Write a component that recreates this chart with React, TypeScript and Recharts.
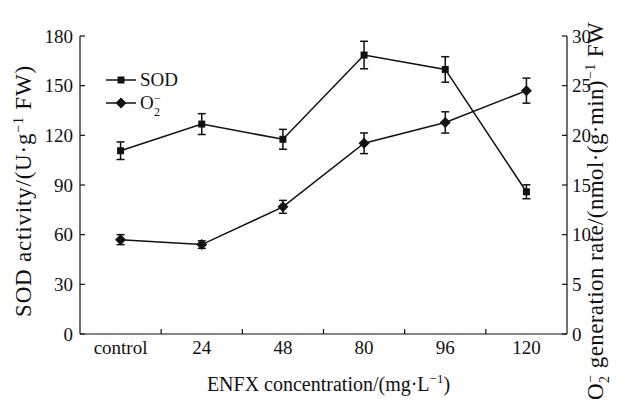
import { LineChart, Line, XAxis, YAxis, ErrorBar, Legend, Label } from 'recharts';

document.body.style.margin = '0';

const FONT = '"Liberation Serif", "Times New Roman", serif';
const INK = '#111';

const categories = ['control', '24', '48', '80', '96', '120'];
const sodValues = [110.7, 126.8, 117.6, 168.5, 159.8, 85.9];
const sodErrors = [5.3, 6.3, 6.0, 8.3, 7.7, 4.2];
const o2Values = [9.5, 9.0, 12.8, 19.2, 21.3, 24.5];
const o2Errors = [0.5, 0.38, 0.65, 1.04, 1.07, 1.26];
const leftTicks = [0, 30, 60, 90, 120, 150, 180];
const rightTicks = [0, 5, 10, 15, 20, 25, 30];

// categories sit at half positions, tick marks fall between them
const chartData = categories.map((name, i) => ({
  pos: i + 0.5,
  name,
  sod: sodValues[i],
  sodErr: sodErrors[i],
  o2: o2Values[i],
  o2Err: o2Errors[i],
}));
const xTicks = categories.flatMap((_, i) => (i === 0 ? [0.5] : [i, i + 0.5]));

function XTick({ x, y, payload }: any) {
  const v = payload.value;
  if (Number.isInteger(v)) {
    return <line x1={x} x2={x} y1={y} y2={y - 5} stroke={INK} strokeWidth={1.2} />;
  }
  return (
    <text x={x} y={y + 20} textAnchor="middle" fontSize={19} fontFamily={FONT} fill={INK}>
      {categories[Math.floor(v)]}
    </text>
  );
}

function LeftTick({ x, y, payload }: any) {
  return (
    <g>
      <line x1={x} x2={x + 5} y1={y} y2={y} stroke={INK} strokeWidth={1.2} />
      <text x={x - 7} y={y} dy="0.35em" textAnchor="end" fontSize={19} fontFamily={FONT} fill={INK}>
        {payload.value}
      </text>
    </g>
  );
}

function RightTick({ x, y, payload }: any) {
  return (
    <g>
      <line x1={x} x2={x - 5} y1={y} y2={y} stroke={INK} strokeWidth={1.2} />
      <text x={x + 5} y={y} dy="0.35em" textAnchor="start" fontSize={19} fontFamily={FONT} fill={INK}>
        {payload.value}
      </text>
    </g>
  );
}

function SquareDot({ cx, cy }: any) {
  return <rect x={cx - 3.5} y={cy - 3.5} width={7} height={7} fill={INK} />;
}

function DiamondDot({ cx, cy }: any) {
  const r = 5.5;
  return <polygon points={`${cx},${cy - r} ${cx + r},${cy} ${cx},${cy + r} ${cx - r},${cy}`} fill={INK} />;
}

function LeftTitle({ viewBox }: any) {
  const x = viewBox.x - 9;
  const y = viewBox.y + viewBox.height / 2 + 6;
  return (
    <text x={x} y={y} transform={`rotate(-90 ${x} ${y})`} textAnchor="middle" fontSize={23} fontFamily={FONT} fill={INK}
      letterSpacing={0.8}>
      SOD activity/(U·g<tspan dy={-8} fontSize={14}>−1</tspan><tspan dy={8}> FW)</tspan>
    </text>
  );
}

function RightTitle({ viewBox }: any) {
  const x = viewBox.x + 36;
  const y = viewBox.y + viewBox.height / 2 + 26;
  return (
    <text x={x} y={y} transform={`rotate(-90 ${x} ${y})`} textAnchor="middle" fontSize={23} fontFamily={FONT} fill={INK}
      letterSpacing={0.4}>
      O<tspan dy={6} fontSize={14}>2</tspan><tspan dx={-7} dy={-14} fontSize={14}>−</tspan>
      <tspan dy={8}> generation rate/(nmol·(g·min)</tspan>
      <tspan dx={1} dy={-8} fontSize={14}>−1</tspan><tspan dy={8}> FW</tspan>
    </text>
  );
}

function XTitle({ viewBox }: any) {
  const x = viewBox.x + viewBox.width / 2 + 5;
  const y = viewBox.y + 57;
  return (
    <text x={x} y={y} textAnchor="middle" fontSize={20} fontFamily={FONT} fill={INK}>
      ENFX concentration/(mg·L<tspan dy={-8} fontSize={13}>−1</tspan><tspan dy={8}>)</tspan>
    </text>
  );
}

function LegendBox() {
  const row = (marker: any, label: any) => (
    <div style={{ display: 'flex', alignItems: 'center', height: 23 }}>
      <svg width={32} height={12} style={{ marginRight: 2 }}>
        <line x1={0} x2={30} y1={6} y2={6} stroke={INK} strokeWidth={1.5} />
        {marker}
      </svg>
      <span style={{ fontFamily: FONT, fontSize: 19, color: INK, lineHeight: '23px' }}>{label}</span>
    </div>
  );
  return (
    <div>
      {row(<rect x={11.5} y={2.5} width={7} height={7} fill={INK} />, 'SOD')}
      {row(
        <polygon points="15,0.5 20.5,6 15,11.5 9.5,6" fill={INK} />,
        <span style={{ position: 'relative', paddingRight: 9 }}>
          O
          <span style={{ position: 'absolute', left: 14, top: -5, fontSize: 12 }}>−</span>
          <span style={{ position: 'absolute', left: 14, top: 9, fontSize: 12 }}>2</span>
        </span>,
      )}
    </div>
  );
}

export default function App() {
  return (
    <LineChart width={625} height={401} data={chartData} margin={{ top: 36, right: 18, bottom: 37, left: 40 }}>
      <XAxis
        dataKey="pos"
        type="number"
        domain={[0, 6]}
        ticks={xTicks}
        interval={0}
        height={30}
        axisLine={{ stroke: INK, strokeWidth: 1.2 }}
        tickLine={false}
        tickSize={0}
        tickMargin={0}
        tick={<XTick />}
      >
        <Label content={XTitle} />
      </XAxis>
      <YAxis
        yAxisId="left"
        domain={[0, 180]}
        ticks={leftTicks}
        interval={0}
        width={40}
        axisLine={{ stroke: INK, strokeWidth: 1.2 }}
        tickLine={false}
        tickSize={0}
        tickMargin={0}
        tick={<LeftTick />}
      >
        <Label content={LeftTitle} />
      </YAxis>
      <YAxis
        yAxisId="right"
        orientation="right"
        domain={[0, 30]}
        ticks={rightTicks}
        interval={0}
        width={40}
        axisLine={{ stroke: INK, strokeWidth: 1.2 }}
        tickLine={false}
        tickSize={0}
        tickMargin={0}
        tick={<RightTick />}
      >
        <Label content={RightTitle} />
      </YAxis>
      <Legend
        layout="horizontal"
        verticalAlign="middle"
        align="center"
        content={<LegendBox />}
        wrapperStyle={{ position: 'absolute', left: 106, top: 68, width: 'auto' }}
      />
      <Line
        yAxisId="left"
        dataKey="sod"
        name="SOD"
        stroke={INK}
        strokeWidth={1.5}
        dot={<SquareDot />}
        activeDot={false}
        isAnimationActive={false}
      >
        <ErrorBar dataKey="sodErr" width={4} stroke={INK} strokeWidth={1.5} isAnimationActive={false} />
      </Line>
      <Line
        yAxisId="right"
        dataKey="o2"
        name="O2-"
        stroke={INK}
        strokeWidth={1.5}
        dot={<DiamondDot />}
        activeDot={false}
        isAnimationActive={false}
      >
        <ErrorBar dataKey="o2Err" width={4} stroke={INK} strokeWidth={1.5} isAnimationActive={false} />
      </Line>
    </LineChart>
  );
}
